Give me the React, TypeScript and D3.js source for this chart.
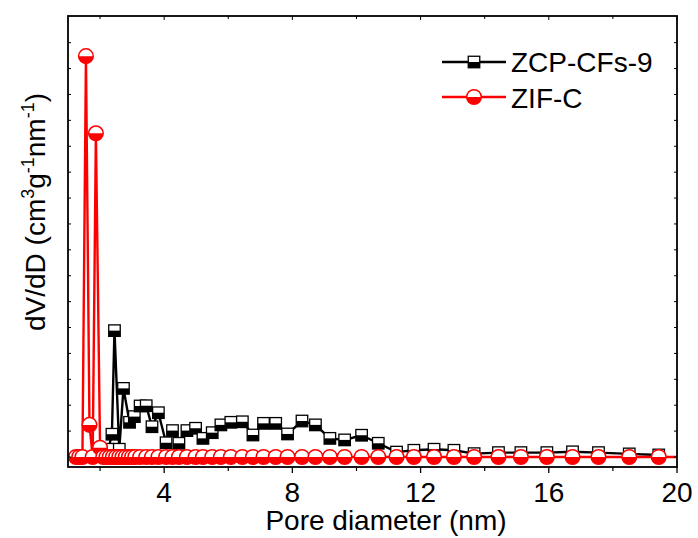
import React from "react";
import * as d3 from "d3";

const W = 698;
const H = 538;

// ZCP-CFs-9 (black, half-filled squares)
const zcpX = [2.26, 2.37, 2.45, 2.6, 2.73, 2.92, 3.07, 3.25, 3.44, 3.62, 3.82, 4.06, 4.26, 4.46, 4.71, 4.98, 5.21, 5.5, 5.77, 6.08, 6.44, 6.77, 7.1, 7.48, 7.85, 8.3, 8.72, 9.17, 9.63, 10.16, 10.68, 11.25, 11.79, 12.42, 13.04, 13.67, 14.43, 15.13, 15.94, 16.74, 17.55, 18.51, 19.43];
const zcpY = [0.03, 0.088, 0.488, 0.03, 0.265, 0.134, 0.156, 0.197, 0.198, 0.117, 0.171, 0.055, 0.102, 0.053, 0.102, 0.111, 0.072, 0.094, 0.124, 0.134, 0.136, 0.085, 0.13, 0.13, 0.089, 0.139, 0.124, 0.072, 0.066, 0.084, 0.053, 0.019, 0.026, 0.03, 0.026, 0.013, 0.017, 0.017, 0.017, 0.02, 0.017, 0.012, 0.008];

// ZIF-C (red, half-filled circles)
const zifX = [1.25, 1.35, 1.45, 1.56, 1.67, 1.77, 1.87, 2.0, 2.1, 2.2, 2.3, 2.4, 2.5, 2.6, 2.7, 2.8, 2.9, 3.0, 3.1, 3.25, 3.44, 3.62, 3.82, 4.06, 4.26, 4.46, 4.71, 4.98, 5.21, 5.5, 5.77, 6.08, 6.44, 6.77, 7.1, 7.48, 7.85, 8.3, 8.72, 9.17, 9.63, 10.16, 10.68, 11.25, 11.79, 12.42, 13.04, 13.67, 14.43, 15.13, 15.94, 16.74, 17.55, 18.51, 19.43, 20.6];
const zifY = [0, 0, 0, 1.548, 0.124, 0, 1.25, 0.036, 0, 0, 0, 0, 0, 0, 0, 0, 0, 0, 0, 0, 0, 0, 0, 0, 0, 0, 0, 0, 0, 0, 0, 0, 0, 0, 0, 0, 0, 0, 0, 0, 0, 0, 0, 0, 0, 0, 0, 0, 0, 0, 0, 0, 0, 0, 0, 0];

const xMajorTicks = [4, 8, 12, 16, 20];
const xMinorTicks = [2, 6, 10, 14, 18];
const yTicks = [0, 0.1, 0.2, 0.3, 0.4, 0.5, 0.6, 0.7, 0.8, 0.9, 1.0, 1.1, 1.2, 1.3, 1.4, 1.5, 1.6];

const seriesNames = ["ZCP-CFs-9", "ZIF-C"];

const left = 68, right = 677, top = 16, bottom = 467;
const FONT = "'Liberation Sans', Arial, Helvetica, sans-serif";

export default function App() {
  const x = d3.scaleLinear().domain([1, 20]).range([left, right]);
  const y = d3.scaleLinear().domain([-0.0386, 1.703]).range([bottom, top]);

  const zcp = zcpX.map((v, i) => [v, zcpY[i]] as [number, number]);
  const zif = zifX.map((v, i) => [v, zifY[i]] as [number, number]);
  const line = d3.line<[number, number]>().x(d => x(d[0])).y(d => y(d[1]));

  const sq = 11.5;
  const r = 7.3;

  const Square = ({ cx, cy }: { cx: number; cy: number }) => (
    <g>
      <rect x={cx - sq / 2} y={cy - sq / 2} width={sq} height={sq} fill="#fff" />
      <rect x={cx - sq / 2} y={cy} width={sq} height={sq / 2} fill="#000" />
      <rect x={cx - sq / 2} y={cy - sq / 2} width={sq} height={sq} fill="none" stroke="#000" strokeWidth={1.3} />
    </g>
  );
  const Circle = ({ cx, cy }: { cx: number; cy: number }) => (
    <g>
      <circle cx={cx} cy={cy} r={r} fill="#fff" />
      <path d={`M${cx - r},${cy} A${r},${r} 0 0 0 ${cx + r},${cy} Z`} fill="#ff0000" />
      <circle cx={cx} cy={cy} r={r} fill="none" stroke="#ff0000" strokeWidth={1.5} />
    </g>
  );

  return (
    <svg width={W} height={H} style={{ position: "absolute", left: 0, top: 0, background: "#fff" }} fontFamily={FONT}>
      <defs>
        <clipPath id="plotclip">
          <rect x={left} y={top} width={right - left} height={bottom - top} />
        </clipPath>
      </defs>
      <rect x={0} y={0} width={W} height={H} fill="#fff" />

      <g clipPath="url(#plotclip)">
        <path d={line(zcp) || ""} fill="none" stroke="#000" strokeWidth={2.4} />
        {zcp.map((d, i) => <Square key={"s" + i} cx={x(d[0])} cy={y(d[1])} />)}
        <path d={line(zif) || ""} fill="none" stroke="#ff0000" strokeWidth={2.4} />
        {zif.map((d, i) => <Circle key={"c" + i} cx={x(d[0])} cy={y(d[1])} />)}
      </g>

      {/* frame */}
      <rect x={left} y={top} width={right - left} height={bottom - top} fill="none" stroke="#000" strokeWidth={1.8} />

      {/* x ticks */}
      {xMajorTicks.map(t => (
        <g key={"xm" + t}>
          <line x1={x(t)} x2={x(t)} y1={bottom} y2={bottom + 6} stroke="#000" strokeWidth={1.3} />
          <line x1={x(t)} x2={x(t)} y1={top} y2={top + 4} stroke="#000" strokeWidth={1} />
          <text x={x(t)} y={502} textAnchor="middle" fontSize={28} fill="#000">{t}</text>
        </g>
      ))}
      {xMinorTicks.map(t => (
        <g key={"xn" + t}>
          <line x1={x(t)} x2={x(t)} y1={bottom} y2={bottom + 4} stroke="#000" strokeWidth={1.2} />
          <line x1={x(t)} x2={x(t)} y1={top} y2={top + 3} stroke="#000" strokeWidth={1} />
        </g>
      ))}
      {/* y ticks */}
      {yTicks.map(t => (
        <g key={"y" + t}>
          <line x1={left} x2={left + 3} y1={y(t)} y2={y(t)} stroke="#000" strokeWidth={1} />
          <line x1={right} x2={right - 3} y1={y(t)} y2={y(t)} stroke="#000" strokeWidth={1} />
        </g>
      ))}

      {/* axis titles */}
      <text x={386} y={530} textAnchor="middle" fontSize={28} fill="#000">Pore diameter (nm)</text>
      <text transform="translate(45,212) rotate(-90)" textAnchor="middle" fontSize={28} fill="#000">
        dV/dD (cm<tspan fontSize={18} dy={-11}>3</tspan><tspan dy={11}>g</tspan><tspan fontSize={18} dy={-11}>-1</tspan><tspan dy={11}>nm</tspan><tspan fontSize={18} dy={-11}>-1</tspan><tspan dy={11}>)</tspan>
      </text>

      {/* legend */}
      <line x1={442} x2={506} y1={62} y2={62} stroke="#000" strokeWidth={2.4} />
      <Square cx={474} cy={62} />
      <text x={511} y={72} fontSize={28} fill="#000">{seriesNames[0]}</text>
      <line x1={442} x2={506} y1={97} y2={97} stroke="#ff0000" strokeWidth={2.4} />
      <Circle cx={474} cy={97} />
      <text x={511} y={108} fontSize={28} fill="#000">{seriesNames[1]}</text>
    </svg>
  );
}
